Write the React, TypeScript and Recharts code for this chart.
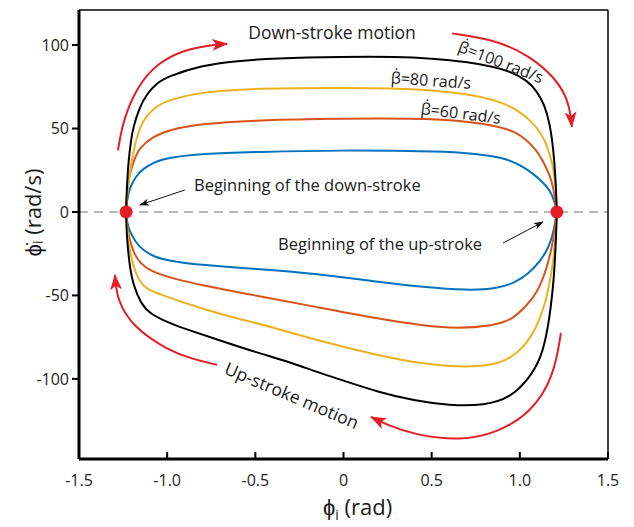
import React from 'react';
import {
  ComposedChart, Line, Scatter, XAxis, YAxis, ReferenceLine, ReferenceDot,
} from 'recharts';

// phase portrait values: [phi, phiDot]
const blueUp: [number, number][] = [
  [-1.233, 0], [-1.229, 6], [-1.215, 14], [-1.18, 21], [-1.137, 26], [-1.07, 30], [-1.0, 32.5],
  [-0.8, 35], [-0.5, 36], [0, 37], [0.4, 36.5], [0.66, 36], [0.85, 33.5], [0.944, 31],
  [1.02, 27], [1.074, 23], [1.13, 18], [1.17, 13], [1.195, 7], [1.21, 0],
];
const blueDown: [number, number][] = [
  [-1.233, 0], [-1.228, -6], [-1.215, -11], [-1.18, -18], [-1.137, -23], [-1.07, -27], [-1.0, -29],
  [-0.8, -32], [-0.5, -34], [-0.15, -37], [0.2, -42], [0.45, -45], [0.7, -47], [0.87, -46],
  [0.97, -42.5], [1.05, -37], [1.12, -29], [1.17, -20], [1.195, -10], [1.21, 0],
];
const orangeUp: [number, number][] = [
  [-1.233, 0], [-1.229, 9], [-1.222, 19], [-1.19, 31], [-1.154, 39], [-1.08, 45], [-1.0, 49],
  [-0.8, 53], [-0.5, 55], [0, 56], [0.4, 56], [0.66, 55], [0.9, 51], [0.98, 47.5], [1.04, 43],
  [1.09, 37.5], [1.13, 31], [1.17, 22], [1.19, 15], [1.21, 0],
];
const orangeDown: [number, number][] = [
  [-1.233, 0], [-1.228, -7], [-1.222, -13], [-1.19, -25], [-1.15, -31], [-1.1, -35], [-1.0, -39],
  [-0.8, -44], [-0.5, -50], [-0.15, -57], [0.2, -64], [0.45, -68], [0.65, -70], [0.85, -68],
  [0.95, -65], [1.04, -56], [1.1, -48], [1.15, -35], [1.19, -18], [1.21, 0],
];
const yellowUp: [number, number][] = [
  [-1.233, 0], [-1.23, 6], [-1.225, 12], [-1.21, 25], [-1.194, 35], [-1.17, 46], [-1.137, 55],
  [-1.08, 62], [-1.0, 67], [-0.8, 72], [-0.5, 74], [0, 74.5], [0.4, 74], [0.7, 71], [0.9, 66],
  [1.0, 60], [1.07, 54], [1.12, 47], [1.15, 41], [1.19, 28], [1.205, 12], [1.21, 0],
];
const yellowDown: [number, number][] = [
  [-1.233, 0], [-1.23, -5], [-1.226, -10], [-1.215, -23], [-1.18, -37], [-1.14, -44], [-1.1, -47],
  [-1.0, -51], [-0.8, -58], [-0.6, -64], [-0.4, -69], [-0.15, -77], [0.2, -86], [0.45, -91],
  [0.65, -93], [0.85, -92], [0.95, -87.5], [1.03, -80], [1.09, -70], [1.14, -57], [1.18, -37],
  [1.2, -20], [1.21, 0],
];
const blackUp: [number, number][] = [
  [-1.233, 0], [-1.231, 8], [-1.228, 15], [-1.22, 30], [-1.205, 43], [-1.194, 50], [-1.16, 62],
  [-1.114, 71], [-1.06, 77], [-1.0, 81], [-0.8, 88], [-0.6, 90.5], [-0.4, 92], [0, 93], [0.3, 93],
  [0.5, 92], [0.7, 90], [0.85, 87], [0.95, 84], [1.04, 79], [1.1, 72], [1.14, 64], [1.17, 53],
  [1.19, 38], [1.203, 20], [1.21, 0],
];
const blackDown: [number, number][] = [
  [-1.233, 0], [-1.231, -8], [-1.228, -15], [-1.222, -23], [-1.21, -34], [-1.194, -43], [-1.15, -55],
  [-1.097, -61], [-1.0, -66], [-0.9, -70], [-0.7, -77], [-0.5, -84], [-0.3, -90], [-0.15, -96],
  [0, -101], [0.2, -108], [0.4, -113], [0.6, -116], [0.8, -116], [0.95, -111], [1.05, -100],
  [1.12, -88], [1.16, -70], [1.19, -45], [1.203, -22], [1.21, 0],
];

// stroke start points
const strokeStarts: [number, number][] = [[-1.233, 0], [1.21, 0]];

// curved red motion arrows
const arrowTopLeft: [number, number][] = [
  [-1.279, 37], [-1.25, 55], [-1.171, 75], [-1.058, 89], [-0.91, 97], [-0.757, 100], [-0.66, 100.8],
];
const arrowTopRight: [number, number][] = [
  [0.615, 107], [0.87, 103], [1.063, 93], [1.193, 81], [1.267, 69], [1.29, 57], [1.295, 51],
];
const arrowBottomLeft: [number, number][] = [
  [-0.717, -91.6], [-0.86, -88], [-1.0, -82.6], [-1.194, -68.9], [-1.285, -52.7], [-1.296, -37.7],
];
const arrowBottomRight: [number, number][] = [
  [1.233, -72.5], [1.193, -98.8], [1.063, -120.4], [0.87, -132.3], [0.666, -137.1], [0.4, -133.5],
  [0.246, -127.5], [0.156, -122.8],
];
const pointerDown: [number, number][] = [[-0.899, 13.2], [-1.154, 4.2]];
const pointerUp: [number, number][] = [[0.905, -18.6], [1.131, -6.0]];

const xTicks = [-1.5, -1, -0.5, 0, 0.5, 1, 1.5];
const yTicks = [-100, -50, 0, 50, 100];

const toPts = (arr: [number, number][]) => arr.map(([x, y]) => ({ x, y }));

const FONT = '"Open Sans", sans-serif';
const RED = '#E41E26';

const fmtX = (v: number) => (v === 0 ? '0' : v.toFixed(1));

const XTick = ({ x, y, payload }: any) => (
  <g>
    <line x1={x} y1={y} x2={x} y2={y - 7} stroke="#000" strokeWidth={2} />
    <text x={x} y={y + 27} textAnchor="middle" fontSize={16} fontFamily={FONT} fill="#222">
      {fmtX(payload.value)}
    </text>
  </g>
);

const Annot = ({ viewBox, text, rot = 0, anchor = 'middle', size = 16 }: any) => {
  const x = viewBox?.x ?? 0;
  const y = viewBox?.y ?? 0;
  return (
    <text
      x={x} y={y} textAnchor={anchor} dominantBaseline="central"
      transform={rot ? `rotate(${rot}, ${x}, ${y})` : undefined}
      fontSize={size} fontFamily={FONT} fill="#1a1a1a"
    >
      {text}
    </text>
  );
};

const XLabel = ({ viewBox }: any) => {
  const x = viewBox.x + viewBox.width / 2 + 14;
  const y = viewBox.y + 56;
  return (
    <text x={x} y={y} textAnchor="middle" fontSize={22} fontFamily={FONT} fill="#1a1a1a">
      {'\u03D5'}
      <tspan fontSize={14} dy={5}>i</tspan>
      <tspan dy={-5}> (rad)</tspan>
    </text>
  );
};

const YLabel = ({ viewBox }: any) => {
  const x = viewBox.x + 32;
  const y = viewBox.y + viewBox.height / 2 - 22;
  return (
    <text
      x={x} y={y} textAnchor="middle" dominantBaseline="central"
      transform={`rotate(-90, ${x}, ${y})`}
      fontSize={22} fontFamily={FONT} fill="#1a1a1a"
    >
      {'\u03D5\u0307'}
      <tspan fontSize={14} dy={5}>i</tspan>
      <tspan dy={-5}> (rad/s)</tspan>
    </text>
  );
};

const curves = [
  { key: 'blue', color: '#0072BD', up: blueUp, down: blueDown },
  { key: 'orange', color: '#D95319', up: orangeUp, down: orangeDown },
  { key: 'yellow', color: '#EDB120', up: yellowUp, down: yellowDown },
  { key: 'black', color: '#000000', up: blackUp, down: blackDown },
];

const redArrows = [arrowTopLeft, arrowTopRight, arrowBottomLeft, arrowBottomRight];

export default function App() {
  return (
    <div style={{ position: 'absolute', left: 0, top: 0, background: '#fff' }}>
      <ComposedChart width={634} height={527} margin={{ top: 10, right: 26, bottom: 0, left: 0 }}>
        <defs>
          <marker id="arrRed" viewBox="0 0 16 12" refX="15" refY="6" markerWidth="16" markerHeight="12"
            markerUnits="userSpaceOnUse" orient="auto">
            <path d="M0,0 L16,6 L0,12 L4,6 Z" fill={RED} />
          </marker>
          <marker id="arrBlack" viewBox="0 0 10 7" refX="9" refY="3.5" markerWidth="10" markerHeight="7"
            markerUnits="userSpaceOnUse" orient="auto">
            <path d="M0,0 L10,3.5 L0,7 L2.5,3.5 Z" fill="#111" />
          </marker>
        </defs>
        <XAxis
          type="number" dataKey="x" domain={[-1.5, 1.5]} ticks={xTicks} allowDataOverflow
          height={68} tickSize={0} tickMargin={0} tickLine={false} tick={<XTick />}
          axisLine={{ stroke: '#000', strokeWidth: 3 }}
          label={<XLabel />}
        />
        <YAxis
          type="number" dataKey="y" domain={[-148, 121]} ticks={yTicks} allowDataOverflow
          width={79} tickSize={7} tickMargin={3}
          tickLine={{ stroke: '#000', strokeWidth: 2 }}
          tick={{ fontSize: 16, fontFamily: FONT, fill: '#222' }}
          axisLine={{ stroke: '#000', strokeWidth: 3 }}
          label={<YLabel />}
        />
        <ReferenceLine y={0} stroke="#a3a3a3" strokeWidth={1.5} strokeDasharray="9 6" />
        <ReferenceLine x={1.5} stroke="#000" strokeWidth={1.5} />
        <ReferenceLine y={121} stroke="#000" strokeWidth={1.5} />

        <Scatter
          data={toPts(strokeStarts)} isAnimationActive={false} legendType="none"
          shape={(p: any) => <circle cx={p.cx} cy={p.cy} r={6.5} fill={RED} />}
        />

        {curves.map((c) => [
          <Line key={`${c.key}-up`} data={toPts(c.up)} dataKey="y" type="basis" stroke={c.color}
            strokeWidth={2} dot={false} activeDot={false} isAnimationActive={false} legendType="none" />,
          <Line key={`${c.key}-down`} data={toPts(c.down)} dataKey="y" type="basis" stroke={c.color}
            strokeWidth={2} dot={false} activeDot={false} isAnimationActive={false} legendType="none" />,
        ])}

        {redArrows.map((a, i) => (
          <Line key={`arrow-${i}`} data={toPts(a)} dataKey="y" type="basis" stroke={RED}
            strokeWidth={2} dot={false} activeDot={false} isAnimationActive={false} legendType="none"
            markerEnd="url(#arrRed)" />
        ))}
        {[pointerDown, pointerUp].map((a, i) => (
          <Line key={`pointer-${i}`} data={toPts(a)} dataKey="y" type="linear" stroke="#111"
            strokeWidth={1} dot={false} activeDot={false} isAnimationActive={false} legendType="none"
            markerEnd="url(#arrBlack)" />
        ))}

        <ReferenceDot x={-0.065} y={107.8} r={0} fill="none" stroke="none"
          label={<Annot text="Down-stroke motion" size={17.5} />} />
        <ReferenceDot x={0.893} y={90} r={0} fill="none" stroke="none"
          label={<Annot text={'\u03B2\u0307=100 rad/s'} rot={21} />} />
        <ReferenceDot x={0.496} y={79} r={0} fill="none" stroke="none"
          label={<Annot text={'\u03B2\u0307=80 rad/s'} rot={4} />} />
        <ReferenceDot x={0.666} y={59.3} r={0} fill="none" stroke="none"
          label={<Annot text={'\u03B2\u0307=60 rad/s'} rot={7} />} />
        <ReferenceDot x={-0.848} y={16.2} r={0} fill="none" stroke="none"
          label={<Annot text="Beginning of the down-stroke" anchor="start" size={16.5} />} />
        <ReferenceDot x={-0.371} y={-18.6} r={0} fill="none" stroke="none"
          label={<Annot text="Beginning of the up-stroke" anchor="start" size={16.5} />} />
        <ReferenceDot x={-0.292} y={-109.6} r={0} fill="none" stroke="none"
          label={<Annot text="Up-stroke motion" rot={23} size={17.5} />} />
      </ComposedChart>
    </div>
  );
}
